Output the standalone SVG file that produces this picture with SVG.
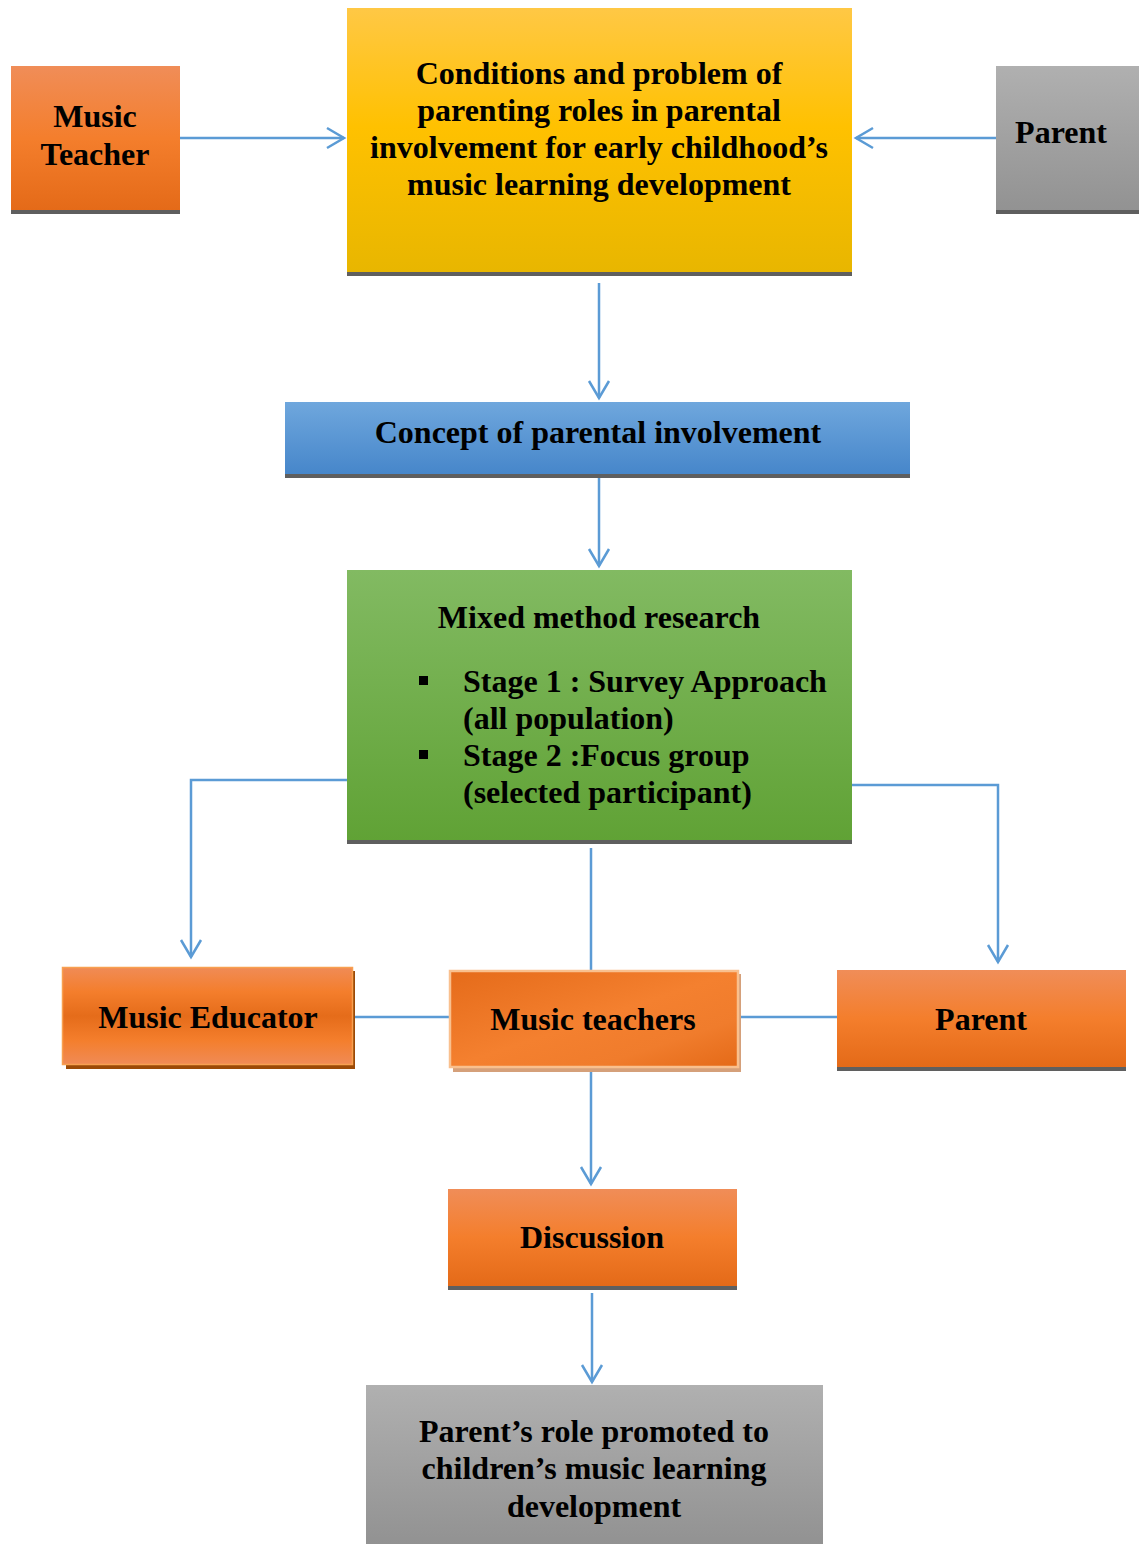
<svg xmlns="http://www.w3.org/2000/svg" width="1139" height="1544" viewBox="0 0 1139 1544">
<style>
text{font-family:"Liberation Serif","Times New Roman",serif;font-weight:bold;font-size:32px;fill:#000;text-anchor:middle}
.l{text-anchor:start}
.bar{fill:#5F5F5F}
.conn{stroke:#5B9BD5;stroke-width:2.5;fill:none}
.arr{marker-end:url(#ah)}
</style>
<defs>
<marker id="ah" viewBox="0 0 24 24" markerUnits="userSpaceOnUse" markerWidth="24" markerHeight="24" refX="21" refY="12" orient="auto">
<path d="M4,2 L21,12 L4,22" fill="none" stroke="#5B9BD5" stroke-width="2.5"/>
</marker>
<linearGradient id="gOr" x1="0" y1="0" x2="0" y2="1"><stop offset="0" stop-color="#F08D58"/><stop offset="0.5" stop-color="#F47E2C"/><stop offset="1" stop-color="#E46A18"/></linearGradient>
<linearGradient id="gOrBand" x1="0" y1="0" x2="0" y2="1"><stop offset="0" stop-color="#F08B56"/><stop offset="0.25" stop-color="#F47E2C"/><stop offset="0.5" stop-color="#E56C1A"/><stop offset="0.75" stop-color="#F47E2C"/><stop offset="1" stop-color="#F08B56"/></linearGradient>
<linearGradient id="gOrDiag" x1="0" y1="0" x2="1" y2="1"><stop offset="0" stop-color="#E56B1A"/><stop offset="0.5" stop-color="#F4802F"/><stop offset="0.75" stop-color="#F07C2C"/><stop offset="1" stop-color="#E46A18"/></linearGradient>
<linearGradient id="gYel" x1="0" y1="0" x2="0" y2="1"><stop offset="0" stop-color="#FFC845"/><stop offset="0.45" stop-color="#FFC100"/><stop offset="1" stop-color="#E8B600"/></linearGradient>
<linearGradient id="gBlue" x1="0" y1="0" x2="0" y2="1"><stop offset="0" stop-color="#6FA7DD"/><stop offset="1" stop-color="#4686CA"/></linearGradient>
<linearGradient id="gGreen" x1="0" y1="0" x2="0" y2="1"><stop offset="0" stop-color="#82BA62"/><stop offset="1" stop-color="#60A235"/></linearGradient>
<linearGradient id="gGray" x1="0" y1="0" x2="0" y2="1"><stop offset="0" stop-color="#B0B0B0"/><stop offset="1" stop-color="#929292"/></linearGradient>
</defs>

<g id="connectors">
<line class="conn arr" x1="180" y1="138" x2="344" y2="138"/>
<line class="conn arr" x1="996" y1="138" x2="856" y2="138"/>
<line class="conn arr" x1="599" y1="283" x2="599" y2="398"/>
<line class="conn arr" x1="599" y1="478" x2="599" y2="566"/>
<polyline class="conn arr" points="353,780 191,780 191,957"/>
<polyline class="conn arr" points="848,785 998,785 998,962"/>
<line class="conn" x1="591" y1="848" x2="591" y2="970"/>
<line class="conn" x1="353" y1="1017" x2="449" y2="1017"/>
<line class="conn" x1="739" y1="1017" x2="837" y2="1017"/>
<line class="conn arr" x1="591" y1="1068" x2="591" y2="1184"/>
<line class="conn arr" x1="592" y1="1293" x2="592" y2="1382"/>
</g>

<g id="music-teacher-top">
<rect x="11" y="66" width="169" height="145" fill="url(#gOr)"/>
<rect class="bar" x="11" y="210" width="169" height="4"/>
<text x="95" y="127">Music</text>
<text x="95" y="165">Teacher</text>
</g>

<g id="conditions">
<rect x="347" y="8" width="505" height="265" fill="url(#gYel)"/>
<rect class="bar" x="347" y="272" width="505" height="4"/>
<text x="599" y="84">Conditions and problem of</text>
<text x="599" y="121">parenting roles in parental</text>
<text x="599" y="158">involvement for early childhood’s</text>
<text x="599" y="195">music learning development</text>
</g>

<g id="parent-top">
<rect x="996" y="66" width="143" height="145" fill="url(#gGray)"/>
<rect class="bar" x="996" y="210" width="143" height="4"/>
<text x="1061" y="143">Parent</text>
</g>

<g id="concept">
<rect x="285" y="402" width="625" height="73" fill="url(#gBlue)"/>
<rect class="bar" x="285" y="474" width="625" height="4"/>
<text x="598" y="443">Concept of parental involvement</text>
</g>

<g id="mixed-method">
<rect x="347" y="570" width="505" height="271" fill="url(#gGreen)"/>
<rect class="bar" x="347" y="840" width="505" height="4"/>
<text x="599" y="628">Mixed method research</text>
<rect x="419" y="676" width="9" height="9" fill="#000"/>
<text class="l" x="463" y="692">Stage 1 : Survey Approach</text>
<text class="l" x="463" y="729">(all population)</text>
<rect x="419" y="750" width="9" height="9" fill="#000"/>
<text class="l" x="463" y="766">Stage 2 :Focus group</text>
<text class="l" x="463" y="803">(selected participant)</text>
</g>

<g id="music-educator">
<rect x="66" y="971" width="289" height="98" fill="#9C4A06"/>
<rect x="62.5" y="967.5" width="290" height="97" fill="url(#gOrBand)" stroke="#F8A050" stroke-width="1.5"/>
<text x="208" y="1028">Music Educator</text>
</g>

<g id="music-teachers">
<rect x="453" y="974" width="288" height="98" fill="#D5A07A"/>
<rect x="450" y="971" width="288" height="96" fill="url(#gOrDiag)" stroke="#F9C08E" stroke-width="2.5"/>
<text x="593" y="1030">Music teachers</text>
</g>

<g id="parent-bottom">
<rect x="837" y="970" width="289" height="97" fill="url(#gOr)"/>
<rect class="bar" x="837" y="1067" width="289" height="4"/>
<text x="981" y="1030">Parent</text>
</g>

<g id="discussion">
<rect x="448" y="1189" width="289" height="97" fill="url(#gOr)"/>
<rect class="bar" x="448" y="1286" width="289" height="4"/>
<text x="592" y="1248">Discussion</text>
</g>

<g id="parents-role">
<rect x="366" y="1385" width="457" height="159" fill="url(#gGray)"/>
<text x="594" y="1442">Parent’s role promoted to</text>
<text x="594" y="1479">children’s music learning</text>
<text x="594" y="1517">development</text>
</g>
</svg>
